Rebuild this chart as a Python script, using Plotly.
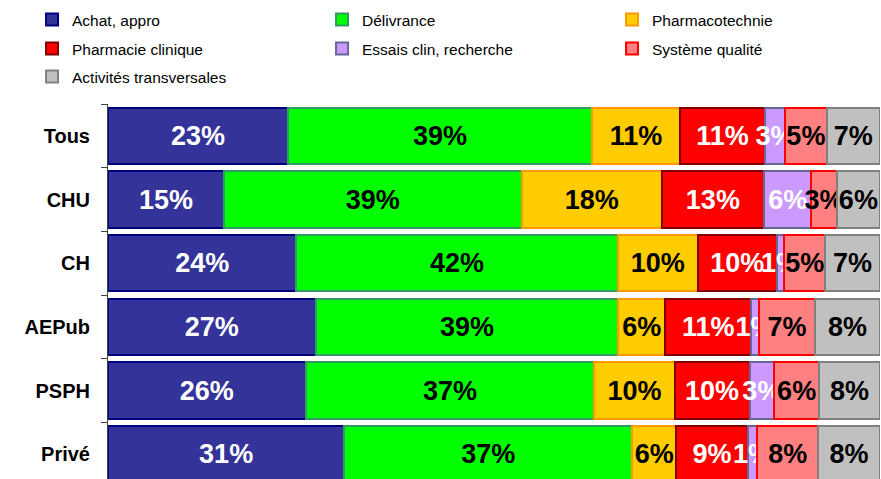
import plotly.graph_objects as go

categories = ["Tous", "CHU", "CH", "AEPub", "PSPH", "Privé"]

achat = [23.3, 15.0, 24.4, 26.9, 25.6, 30.6]
delivrance = [39.4, 38.6, 41.6, 39.2, 37.4, 37.3]
pharmacotechnie = [11.4, 18.1, 10.4, 6.1, 10.4, 5.7]
pharma_clinique = [11.0, 13.3, 10.2, 11.1, 9.7, 9.3]
essais = [2.6, 6.1, 1.0, 1.0, 3.2, 1.2]
qualite = [5.4, 3.3, 5.3, 7.3, 5.8, 7.9]
transversales = [6.9, 5.6, 7.1, 8.4, 7.9, 8.0]

# name, values, fill, border, label colour, legend row
series = [
    ("Achat, appro", achat, "#333399", "#000080", "white", "legend"),
    ("Délivrance", delivrance, "#00FF00", "#339966", "black", "legend"),
    ("Pharmacotechnie", pharmacotechnie, "#FFCC00", "#FF9900", "black", "legend"),
    ("Pharmacie clinique", pharma_clinique, "#FF0000", "#800000", "white", "legend2"),
    ("Essais clin, recherche", essais, "#CC99FF", "#666699", "white", "legend2"),
    ("Système qualité", qualite, "#FF8080", "#FF0000", "black", "legend2"),
    ("Activités transversales", transversales, "#C0C0C0", "#808080", "black", "legend3"),
]

fig = go.Figure()
for name, vals, fill, border, txt, leg in series:
    fig.add_trace(go.Bar(
        y=categories,
        x=vals,
        name=name,
        orientation="h",
        legend=leg,
        marker=dict(color=fill, line=dict(color=border, width=2)),
        texttemplate="%{x:.0f}%",
        textposition="inside",
        insidetextanchor="middle",
        constraintext="none",
        textangle=0,
        insidetextfont=dict(family="Arial, Liberation Sans", size=27, color=txt, weight="bold"),
        hoverinfo="skip",
    ))

# one legend per row so the row spacing can follow the reference
legend_style = dict(
    orientation="h",
    x=-0.0984,
    xanchor="left",
    yanchor="middle",
    entrywidth=245,
    entrywidthmode="pixels",
    font=dict(family="Arial, Liberation Sans", size=15.5, color="black"),
    traceorder="normal",
    bgcolor="rgba(0,0,0,0)",
)

fig.update_layout(
    width=881,
    height=479,
    barmode="stack",
    bargap=0.12,
    plot_bgcolor="white",
    paper_bgcolor="white",
    margin=dict(l=108, r=1, t=104, b=0, autoexpand=False),
    font=dict(family="Arial, Liberation Sans", color="black"),
    legend=dict(legend_style, y=1.224),
    legend2=dict(legend_style, y=1.1467),
    legend3=dict(legend_style, y=1.072),
    xaxis=dict(range=[0, 100], visible=False),
    yaxis=dict(
        range=[5.39, -0.5],
        tickson="boundaries",
        ticks="outside",
        ticklen=6,
        tickcolor="#444",
        showline=True,
        linecolor="#444",
        linewidth=1,
        showgrid=False,
        ticklabelstandoff=13,
        tickfont=dict(family="Arial, Liberation Sans", size=20, color="black", weight="bold"),
    ),
)

# drop the default 8px page margin so the figure sits at the window's corner
fig.write_html(
    "out.html",
    config={"displayModeBar": False},
    post_script="document.body.style.margin='0';",
)
